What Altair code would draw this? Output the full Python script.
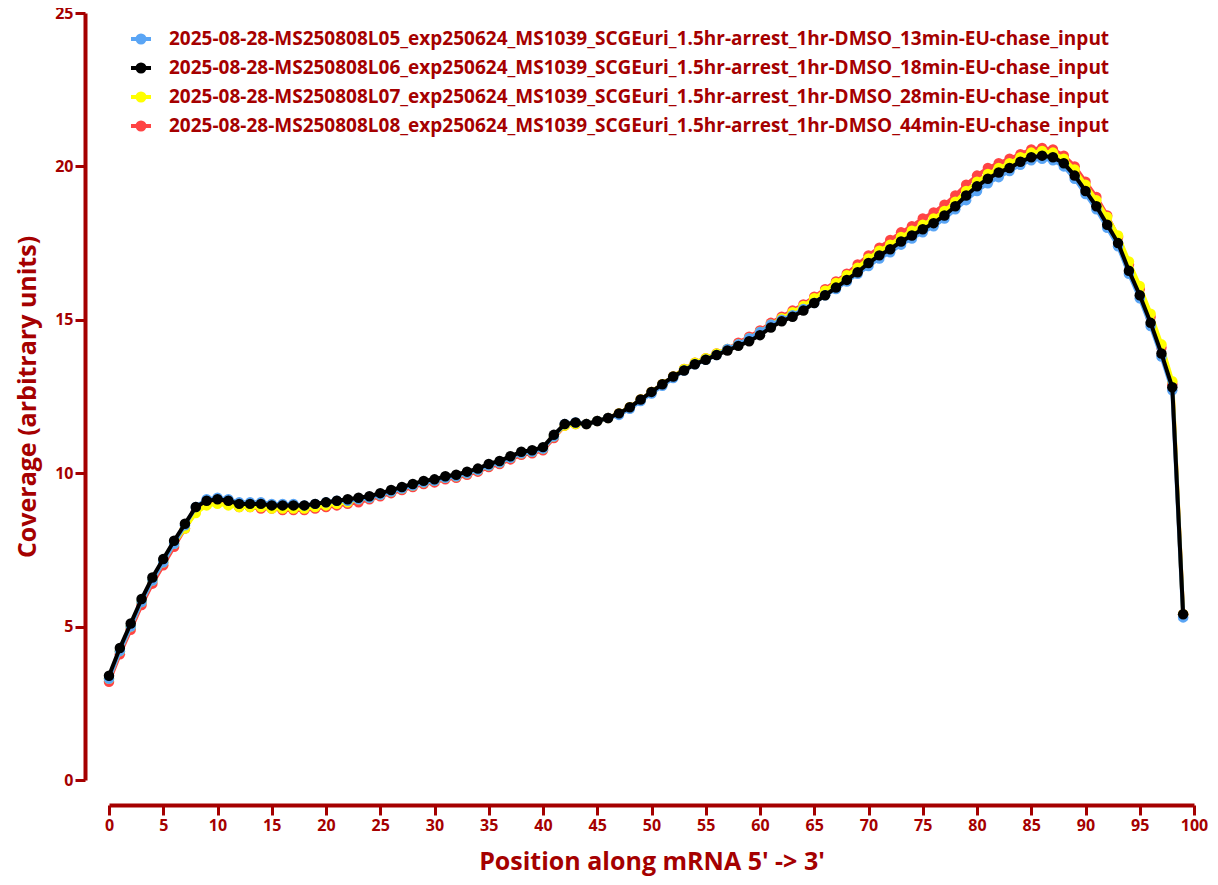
import altair as alt
import pandas as pd

positions = list(range(100))

names = [
    "2025-08-28-MS250808L05_exp250624_MS1039_SCGEuri_1.5hr-arrest_1hr-DMSO_13min-EU-chase_input",
    "2025-08-28-MS250808L06_exp250624_MS1039_SCGEuri_1.5hr-arrest_1hr-DMSO_18min-EU-chase_input",
    "2025-08-28-MS250808L07_exp250624_MS1039_SCGEuri_1.5hr-arrest_1hr-DMSO_28min-EU-chase_input",
    "2025-08-28-MS250808L08_exp250624_MS1039_SCGEuri_1.5hr-arrest_1hr-DMSO_44min-EU-chase_input",
]
colors = ["#5aa5f5", "#000000", "#ffff00", "#ff4444"]

l06 = [3.4, 4.3, 5.1, 5.9, 6.6, 7.2, 7.8, 8.35, 8.9, 9.1,
       9.15, 9.1, 9.0, 9.0, 9.0, 8.95, 8.95, 8.95, 8.95, 9.0,
       9.05, 9.1, 9.15, 9.2, 9.25, 9.35, 9.45, 9.55, 9.65, 9.75,
       9.8, 9.9, 9.95, 10.05, 10.15, 10.3, 10.4, 10.55, 10.7, 10.75,
       10.85, 11.25, 11.6, 11.65, 11.6, 11.7, 11.8, 11.95, 12.15, 12.4,
       12.65, 12.9, 13.15, 13.35, 13.55, 13.7, 13.85, 14.0, 14.15, 14.3,
       14.5, 14.75, 14.95, 15.1, 15.3, 15.55, 15.8, 16.05, 16.3, 16.55,
       16.85, 17.1, 17.3, 17.55, 17.75, 17.95, 18.15, 18.4, 18.7, 19.05,
       19.35, 19.6, 19.8, 19.95, 20.15, 20.3, 20.35, 20.3, 20.1, 19.7,
       19.2, 18.7, 18.1, 17.5, 16.6, 15.8, 14.9, 13.9, 12.8, 5.4]

l05 = [3.3, 4.2, 5.0, 5.8, 6.5, 7.1, 7.7, 8.3, 8.9, 9.15,
       9.2, 9.15, 9.05, 9.05, 9.05, 9.0, 9.0, 9.0, 8.95, 9.0,
       9.05, 9.1, 9.1, 9.15, 9.2, 9.3, 9.4, 9.5, 9.6, 9.7,
       9.75, 9.85, 9.9, 10.0, 10.1, 10.25, 10.35, 10.5, 10.65, 10.7,
       10.8, 11.2, 11.6, 11.65, 11.6, 11.7, 11.8, 11.9, 12.1, 12.35,
       12.6, 12.85, 13.1, 13.35, 13.55, 13.7, 13.85, 14.05, 14.2, 14.4,
       14.6, 14.85, 15.0, 15.15, 15.35, 15.55, 15.8, 16.0, 16.25, 16.5,
       16.75, 17.0, 17.2, 17.45, 17.65, 17.85, 18.05, 18.3, 18.6, 18.9,
       19.2, 19.45, 19.65, 19.85, 20.05, 20.2, 20.25, 20.2, 20.0, 19.6,
       19.1, 18.6, 18.0, 17.4, 16.5, 15.7, 14.8, 13.8, 12.7, 5.3]

l07 = [3.3, 4.2, 5.0, 5.8, 6.5, 7.1, 7.7, 8.2, 8.7, 8.95,
       9.0, 8.95, 8.9, 8.9, 8.9, 8.85, 8.85, 8.85, 8.85, 8.9,
       8.95, 9.0, 9.05, 9.15, 9.2, 9.3, 9.4, 9.5, 9.6, 9.7,
       9.75, 9.85, 9.9, 10.0, 10.1, 10.25, 10.35, 10.5, 10.65, 10.7,
       10.8, 11.2, 11.55, 11.6, 11.6, 11.7, 11.8, 11.95, 12.15, 12.4,
       12.65, 12.9, 13.15, 13.4, 13.6, 13.75, 13.9, 14.05, 14.2, 14.4,
       14.6, 14.85, 15.05, 15.25, 15.45, 15.7, 15.95, 16.2, 16.45, 16.7,
       17.0, 17.25, 17.45, 17.7, 17.9, 18.1, 18.3, 18.55, 18.85, 19.2,
       19.5, 19.75, 19.95, 20.1, 20.3, 20.45, 20.5, 20.45, 20.25, 19.9,
       19.4, 18.9, 18.35, 17.75, 16.9, 16.1, 15.2, 14.2, 13.0, 5.4]

l08 = [3.2, 4.1, 4.9, 5.7, 6.4, 7.0, 7.6, 8.2, 8.75, 9.0,
       9.05, 9.0, 8.9, 8.9, 8.85, 8.85, 8.8, 8.8, 8.8, 8.85,
       8.9, 8.95, 9.0, 9.05, 9.15, 9.25, 9.35, 9.45, 9.55, 9.65,
       9.7, 9.8, 9.85, 9.95, 10.05, 10.2, 10.3, 10.45, 10.6, 10.65,
       10.75, 11.15, 11.55, 11.6, 11.6, 11.7, 11.8, 11.95, 12.15, 12.4,
       12.65, 12.9, 13.15, 13.4, 13.6, 13.75, 13.9, 14.05, 14.25, 14.45,
       14.65, 14.9, 15.1, 15.3, 15.5, 15.75, 16.0, 16.25, 16.5, 16.8,
       17.1, 17.35, 17.6, 17.85, 18.05, 18.3, 18.5, 18.75, 19.05, 19.4,
       19.7, 19.95, 20.1, 20.25, 20.4, 20.55, 20.6, 20.55, 20.35, 20.0,
       19.5, 19.0, 18.4, 17.7, 16.8, 16.0, 15.1, 14.1, 12.9, 5.4]

series = [l05, l06, l07, l08]
rows = []
for name, vals in zip(names, series):
    for p, v in zip(positions, vals):
        rows.append({"pos": p, "cov": v, "sample": name})
df = pd.DataFrame(rows)

red = "#a50000"
# line with a dot in the middle, as in the reference legend
sym = "M-1,0H1M-0.35,0A0.35,0.35 0 1,0 0.35,0A0.35,0.35 0 1,0 -0.35,0Z"
color = alt.Color("sample:N", scale=alt.Scale(domain=names, range=colors),
                  legend=alt.Legend(title=None, orient="none", legendX=20, legendY=14,
                                    labelFont="Open Sans", labelFontSize=19, labelFontWeight="bold",
                                    labelColor=red, labelLimit=1100, symbolType=sym,
                                    symbolSize=400, symbolStrokeWidth=4, rowPadding=5,
                                    labelOffset=16))

axis_style = dict(grid=False, domainColor=red, domainWidth=4, tickColor=red, tickWidth=3,
                  tickSize=10, labelColor=red, labelFontSize=16, labelFontWeight="bold",
                  labelFont="Open Sans", titleFont="Open Sans", titleFontSize=25,
                  titleColor=red, titleFontWeight="bold", labelFlush=False)

x = alt.X("pos:Q", title="Position along mRNA 5' -> 3'",
          scale=alt.Scale(domain=[0, 100], nice=False),
          axis=alt.Axis(values=list(range(0, 101, 5)), offset=25, titlePadding=16, **axis_style))
y = alt.Y("cov:Q", title="Coverage (arbitrary units)",
          scale=alt.Scale(domain=[0, 25], nice=False),
          axis=alt.Axis(values=list(range(0, 26, 5)), offset=24, titlePadding=14, **axis_style))

base = alt.Chart(df).encode(x=x, y=y, color=color)

layers = []
for name in [names[3], names[2], names[0], names[1]]:
    layers.append(base.transform_filter(alt.datum.sample == name).mark_line(
        strokeWidth=4, point=alt.OverlayMarkDef(size=110, filled=True, opacity=1)))

chart = alt.layer(*layers).properties(
    width=1085, height=767, autosize=alt.AutoSizeParams(type="none"),
    padding={"left": 101, "top": 5, "right": 16, "bottom": 96}
).configure_view(stroke=None)

chart.save("out.html", embed_options={"renderer": "svg", "actions": False})
